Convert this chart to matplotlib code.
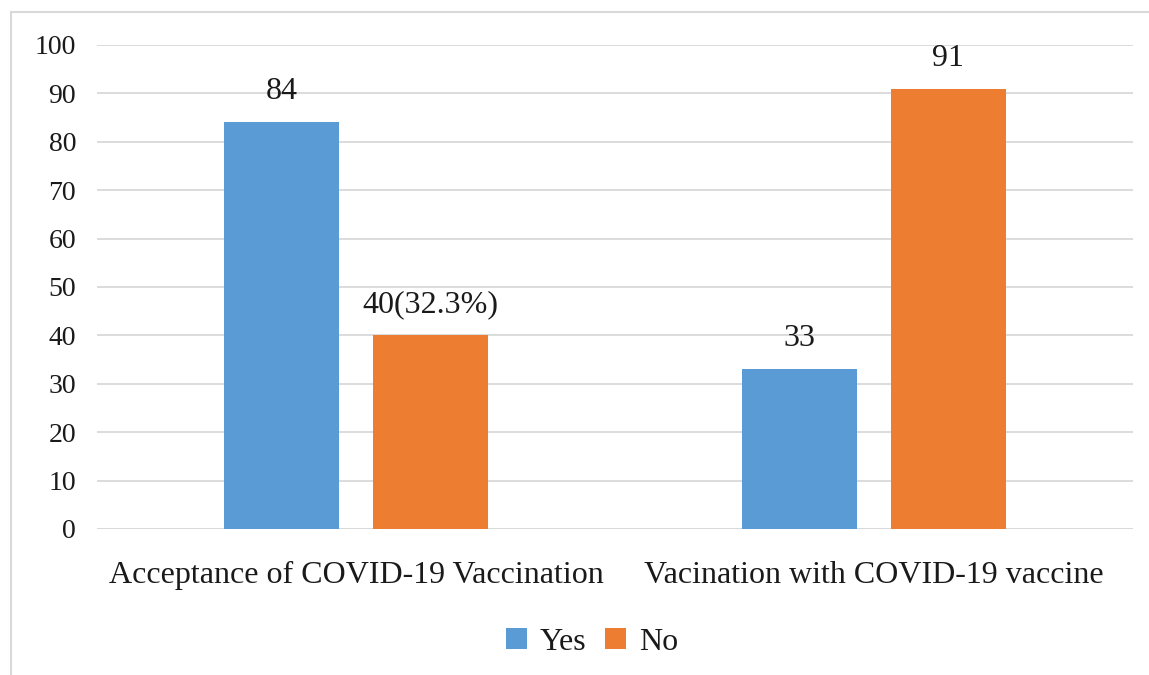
import matplotlib
matplotlib.use("Agg")
import matplotlib.pyplot as plt
from matplotlib.patches import Rectangle

categories = ["Acceptance of COVID-19 Vaccination", "Vacination with COVID-19 vaccine"]
series_names = ["Yes", "No"]
yes_values = [84, 33]
no_values = [40, 91]
yes_labels = ["84", "33"]
no_labels = ["40(32.3%)", "91"]
y_ticks = [0, 10, 20, 30, 40, 50, 60, 70, 80, 90, 100]

plt.rcParams["font.family"] = ["Liberation Serif", "DejaVu Serif"]
text_color = "#1a1a1a"
blue = "#5B9BD5"
orange = "#ED7D31"

fig = plt.figure(figsize=(11.49, 6.75), dpi=100)
fig.patch.set_facecolor("white")

# outer chart frame
W, H = 1149, 675
fig.patches.append(Rectangle((11 / W, -0.1), 1.2, 1 - 12 / H + 0.1,
                             transform=fig.transFigure, fill=False,
                             edgecolor="#d9d9d9", linewidth=1.5))

ax = fig.add_axes([97 / W, 1 - 529 / H, (1133 - 97) / W, (529 - 45) / H])

x = list(range(len(categories)))
width = 0.222
offset = 0.143
bars_yes = ax.bar([i - offset for i in x], yes_values, width, color=blue, label=series_names[0], zorder=3)
bars_no = ax.bar([i + offset for i in x], no_values, width, color=orange, label=series_names[1], zorder=3)

for bars, labels in ((bars_yes, yes_labels), (bars_no, no_labels)):
    for b, lab in zip(bars, labels):
        ax.annotate(lab, (b.get_x() + b.get_width() / 2, b.get_height()),
                    xytext=(0, 22), textcoords="offset points",
                    ha="center", va="center", fontsize=23, color=text_color)

ax.set_xlim(-0.5, 1.5)
ax.set_ylim(0, 100)
ax.set_yticks(y_ticks)
ax.set_xticks(x)
ax.set_xticklabels(categories)
ax.tick_params(axis="y", length=0, pad=15, labelsize=20, labelcolor=text_color)
ax.tick_params(axis="x", length=0, pad=23, labelsize=23, labelcolor=text_color)
ax.yaxis.grid(True, color="#d9d9d9", linewidth=1.3, zorder=0)
ax.set_axisbelow(True)
for s in ax.spines.values():
    s.set_visible(False)
ax.axhline(0, color="#d9d9d9", linewidth=1.3, zorder=1)

leg = fig.legend(handles=[bars_yes, bars_no], labels=series_names,
                 loc="center", bbox_to_anchor=(592 / W, 1 - 642 / H),
                 ncol=2, frameon=False, fontsize=23, handlelength=0.65,
                 handleheight=0.65, handletextpad=0.4, columnspacing=0.6)
for t in leg.get_texts():
    t.set_color(text_color)

fig.savefig("out.png", dpi=100, facecolor="white")
